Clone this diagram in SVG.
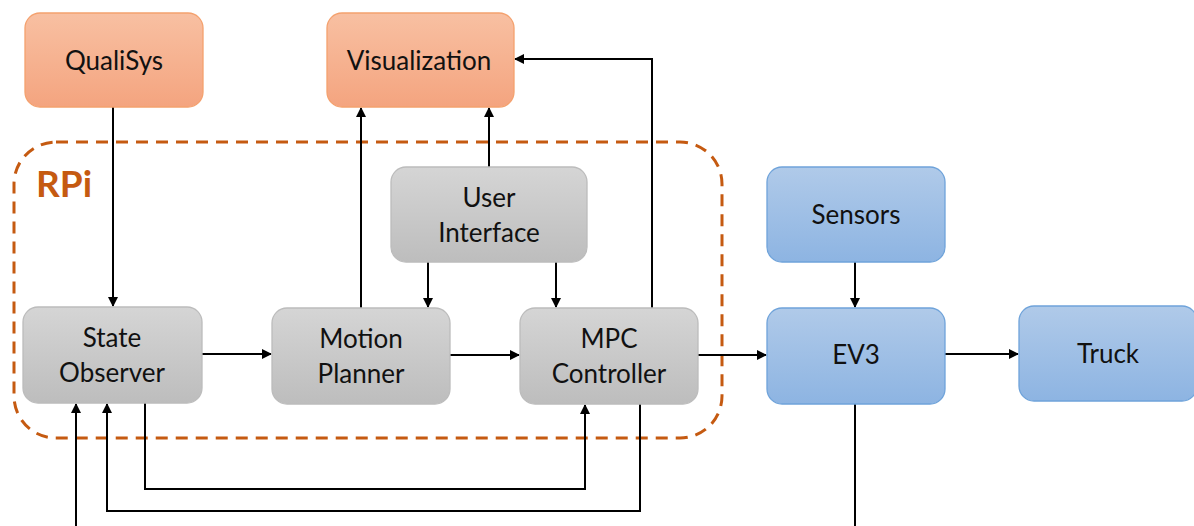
<svg xmlns="http://www.w3.org/2000/svg" width="1194" height="526" viewBox="0 0 1194 526">
<defs>
<linearGradient id="gO" x1="0" y1="0" x2="0" y2="1"><stop offset="0" stop-color="#F8C0A2"/><stop offset="1" stop-color="#F4A47F"/></linearGradient>
<linearGradient id="gG" x1="0" y1="0" x2="0" y2="1"><stop offset="0" stop-color="#D5D5D5"/><stop offset="1" stop-color="#BDBDBD"/></linearGradient>
<linearGradient id="gB" x1="0" y1="0" x2="0" y2="1"><stop offset="0" stop-color="#B0CAE9"/><stop offset="1" stop-color="#8DB4E2"/></linearGradient>
<marker id="ah" viewBox="0 0 10 10" refX="9" refY="5" markerWidth="5" markerHeight="5" orient="auto" markerUnits="strokeWidth"><path d="M0,0 L10,5 L0,10 z" fill="#000"/></marker>
</defs>
<style>
.o{fill:url(#gO);stroke:#F4A16E;stroke-width:1.3}
.g{fill:url(#gG);stroke:#BCBCBC;stroke-width:1.3}
.b{fill:url(#gB);stroke:#6FA3DA;stroke-width:1.3}
.t{font-family:Lato,"Open Sans",sans-serif;font-size:26px;fill:#111;text-anchor:middle}
.c{fill:none;stroke:#000;stroke-width:2}
.a{marker-end:url(#ah)}
</style>
<rect width="1194" height="526" fill="#fff"/>
<g id="rpi">
<rect x="14" y="142" width="708" height="296" rx="42" fill="none" stroke="#C55A11" stroke-width="3" stroke-dasharray="12 8"/>
<text x="36" y="197" font-family="Lato,'Open Sans',sans-serif" font-weight="bold" font-size="37" fill="#C55A11">RPi</text>
</g>
<g id="connectors">
<path class="c a" d="M113,107 V306"/>
<path class="c a" d="M361,308 V108"/>
<path class="c a" d="M489,167 V108"/>
<path class="c a" d="M652,308 V59 H515"/>
<path class="c a" d="M428,262 V307"/>
<path class="c a" d="M556,262 V307"/>
<path class="c a" d="M202,354 H271"/>
<path class="c a" d="M450,355 H519"/>
<path class="c a" d="M698,355 H766"/>
<path class="c a" d="M945,354 H1018"/>
<path class="c a" d="M855,262 V307"/>
<path class="c" d="M855,404 V526"/>
<path class="c a" d="M76,526 V404"/>
<path class="c a" d="M145,403 V489 H585 V405"/>
<path class="c a" d="M640,404 V511 H107 V404"/>
</g>
<g id="qualisys"><rect class="o" x="25" y="13" width="178" height="94" rx="15"/><text class="t" x="114" y="70">QualiSys</text></g>
<g id="visualization"><rect class="o" x="327" y="13" width="187" height="94" rx="15"/><text class="t" x="419" y="70">Visualization</text></g>
<g id="user-interface"><rect class="g" x="391" y="167" width="196" height="95" rx="15"/><text class="t" x="489" y="207">User</text><text class="t" x="489" y="242">Interface</text></g>
<g id="state-observer"><rect class="g" x="23" y="307" width="179" height="96" rx="15"/><text class="t" x="112" y="347">State</text><text class="t" x="112" y="382">Observer</text></g>
<g id="motion-planner"><rect class="g" x="272" y="308" width="178" height="96" rx="15"/><text class="t" x="361" y="348">Motion</text><text class="t" x="361" y="383">Planner</text></g>
<g id="mpc-controller"><rect class="g" x="520" y="308" width="178" height="96" rx="15"/><text class="t" x="609" y="348">MPC</text><text class="t" x="609" y="383">Controller</text></g>
<g id="sensors"><rect class="b" x="767" y="167" width="178" height="95" rx="15"/><text class="t" x="856" y="224">Sensors</text></g>
<g id="ev3"><rect class="b" x="767" y="308" width="178" height="96" rx="15"/><text class="t" x="856" y="364">EV3</text></g>
<g id="truck"><rect class="b" x="1019" y="306" width="178" height="95" rx="15"/><text class="t" x="1108" y="363">Truck</text></g>
</svg>
